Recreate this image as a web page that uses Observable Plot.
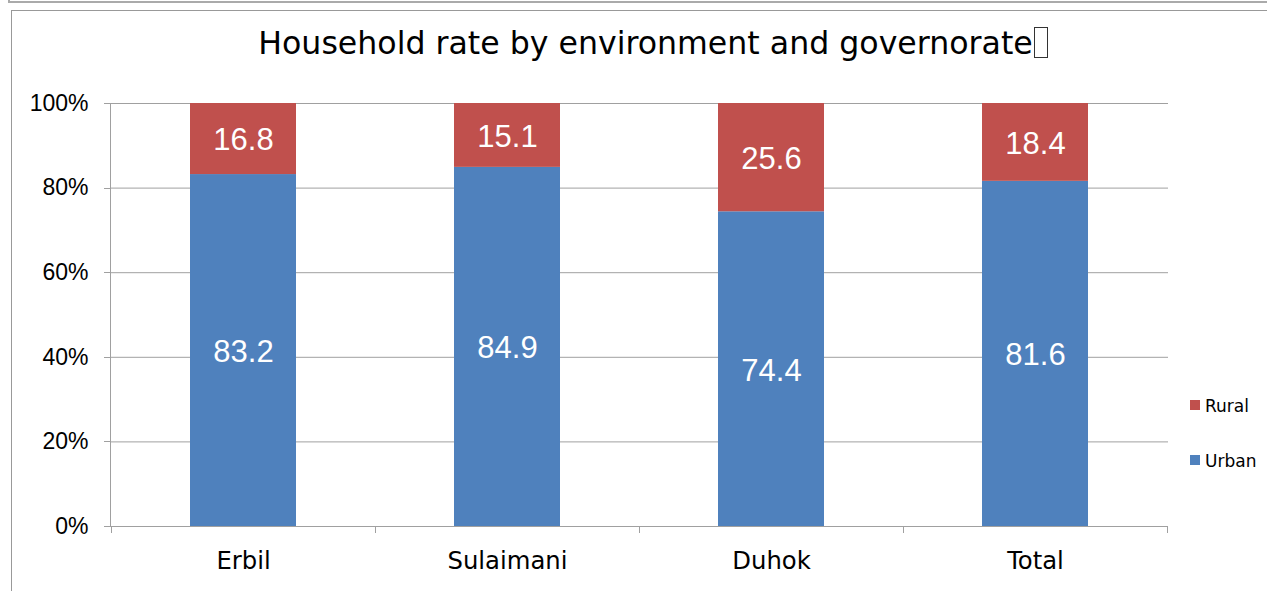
<!DOCTYPE html>
<html>
<head>
<meta charset="utf-8">
<script src="https://cdn.jsdelivr.net/npm/d3@7"></script>
<script src="https://cdn.jsdelivr.net/npm/@observablehq/plot@0.6"></script>
<style>
  html, body { margin: 0; padding: 0; background: #fff; }
  #wrap { position: relative; width: 1267px; height: 591px; overflow: hidden; }
  #outer { position: absolute; left: 8px; top: -2px; width: 1300px; height: 3px; border-left: 2px solid #aaa; border-bottom: 2px solid #aaa; }
  #frame { position: absolute; left: 11px; top: 10px; width: 1300px; height: 700px; border-left: 1px solid #999; border-top: 1px solid #999; }
  #title { position: absolute; left: 0; width: 1306px; top: 23px; text-align: center; font-family: "DejaVu Sans", sans-serif; font-size: 31.6px; color: #000; white-space: nowrap; line-height: 40px; }
  #title .box { display: inline-block; width: 12px; height: 29px; border: 1px solid #333; vertical-align: -4px; margin-left: 1px; }
  #chart { position: absolute; left: 0; top: 80px; }
  .leg { position: absolute; left: 1190px; font-family: "DejaVu Sans", sans-serif; font-size: 17px; color: #000; white-space: nowrap; }
  .leg .sw { position: absolute; left: 0; width: 10px; height: 10px; }
  .leg .lb { position: absolute; left: 15px; line-height: 20px; }
</style>
</head>
<body>
<div id="wrap">
  <div id="outer"></div>
  <div id="frame"></div>
  <div id="title">Household rate by environment and governorate<span class="box"></span></div>
  <div id="chart"></div>
</div>
<script>
const categories = ["Erbil", "Sulaimani", "Duhok", "Total"];
const urban = [83.2, 84.9, 74.4, 81.6];
const rural = [16.8, 15.1, 25.6, 18.4];
const series = ["Urban", "Rural"];
const seriesColors = ["#4F81BD", "#C0504D"];
const yTicks = [0, 20, 40, 60, 80, 100];
const legendOrder = ["Rural", "Urban"];

const table = [];
categories.forEach((c, i) => {
  table.push({category: c, series: "Urban", value: urban[i]});
  table.push({category: c, series: "Rural", value: rural[i]});
});

const gridColor = "#a0a0a0";

function axisLines(index, scales, values, dimensions) {
  const x = scales.x, y = scales.y;
  const bw = typeof x.bandwidth === "function" ? x.bandwidth() : x.bandwidth;
  const step = x(categories[1]) - x(categories[0]);
  const gap = (step - bw) / 2;
  const g = d3.create("svg:g").attr("stroke", gridColor).attr("stroke-width", 1).attr("fill", "none");
  const x0 = dimensions.marginLeft;
  const y0 = y(0), y1 = y(100);
  g.append("line").attr("x1", x0 + 0.5).attr("x2", x0 + 0.5).attr("y1", y1).attr("y2", y0);
  yTicks.forEach(t => {
    g.append("line").attr("x1", x0 - 6).attr("x2", x0).attr("y1", Math.round(y(t)) + 0.5).attr("y2", Math.round(y(t)) + 0.5);
  });
  const bounds = categories.map(c => x(c) - gap);
  bounds.push(x(categories[categories.length - 1]) + bw + gap);
  bounds.forEach(b => {
    g.append("line").attr("x1", Math.round(b) + 0.5).attr("x2", Math.round(b) + 0.5).attr("y1", y0).attr("y2", y0 + 7);
  });
  return g.node();
}

const chart = Plot.plot({
  width: 1267,
  height: 511,
  marginLeft: 110,
  marginRight: 99,
  marginTop: 23,
  marginBottom: 65,
  style: {background: "transparent", color: "#000", overflow: "visible"},
  x: {domain: categories, paddingInner: 0.6, paddingOuter: 0.3, label: null},
  y: {domain: [0, 100], label: null},
  color: {domain: series, range: seriesColors},
  marks: [
    Plot.ruleY(yTicks, {stroke: gridColor, strokeWidth: 1}),
    Plot.barY(table, {x: "category", y: "value", fill: "series"}),
    Plot.text(table, Plot.stackY({
      x: "category", y: "value", text: d => d.value.toFixed(1),
      fill: "white", fontSize: 31, fontFamily: "'Liberation Sans', Arial, sans-serif", dy: 1.5
    })),
    Plot.axisY({ticks: yTicks, tickFormat: d => d + "%", tickSize: 0, tickPadding: 22,
      fontSize: 23, fontFamily: "'Liberation Sans', Arial, sans-serif", label: null}),
    Plot.axisX({tickSize: 0, tickPadding: 25, fontSize: 24.3, fontFamily: "'DejaVu Sans', sans-serif", label: null}),
    axisLines
  ]
});
document.getElementById("chart").appendChild(chart);

const wrap = document.getElementById("wrap");
const legTops = {Rural: 400, Urban: 455};
legendOrder.forEach(s => {
  const d = document.createElement("div");
  d.className = "leg";
  d.style.top = legTops[s] + "px";
  const sw = document.createElement("div");
  sw.className = "sw";
  sw.style.top = "0px";
  sw.style.background = seriesColors[series.indexOf(s)];
  const lb = document.createElement("div");
  lb.className = "lb";
  lb.style.top = "-4px";
  lb.textContent = s;
  d.appendChild(sw); d.appendChild(lb);
  wrap.appendChild(d);
});
</script>
</body>
</html>
